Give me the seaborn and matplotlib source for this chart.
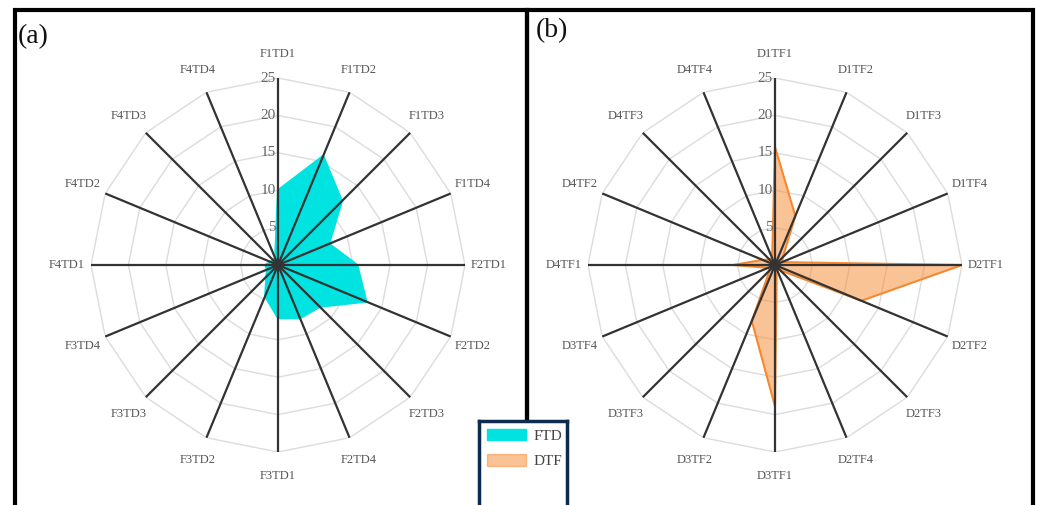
import numpy as np
import matplotlib
matplotlib.use("Agg")
import matplotlib.pyplot as plt
from matplotlib.patches import Rectangle, Patch
import seaborn as sns

# axis labels and values
labels_a = ["F1TD1", "F1TD2", "F1TD3", "F1TD4", "F2TD1", "F2TD2", "F2TD3", "F2TD4",
            "F3TD1", "F3TD2", "F3TD3", "F3TD4", "F4TD1", "F4TD2", "F4TD3", "F4TD4"]
ftd = [10.0, 15.8, 12.1, 7.4, 10.6, 12.8, 7.9, 7.7,
       7.1, 4.5, 2.2, 1.6, 1.7, 1.1, 1.0, 1.0]

labels_b = ["D1TF1", "D1TF2", "D1TF3", "D1TF4", "D2TF1", "D2TF2", "D2TF3", "D2TF4",
            "D3TF1", "D3TF2", "D3TF3", "D3TF4", "D4TF1", "D4TF2", "D4TF3", "D4TF4"]
dtf = [15.8, 7.1, 1.5, 1.0, 25.0, 12.5, 1.0, 0.6,
       18.9, 8.1, 1.0, 1.0, 5.6, 1.8, 1.0, 1.0]

rings = [5, 10, 15, 20, 25]
rmax = 25

sns.set_theme(style="white")
plt.rcParams["font.family"] = ["Liberation Serif", "DejaVu Serif"]

W, H = 1040, 505
fig = plt.figure(figsize=(W / 100, H / 100), dpi=100)


def radar(ax, labels, vals, color, alpha, edge):
    n = len(labels)
    ang = np.linspace(0, 2 * np.pi, n, endpoint=False)
    ax.set_theta_zero_location("N")
    ax.set_theta_direction(-1)
    ax.set_ylim(0, rmax)
    ax.set_axis_off()
    # polygon grid
    ring_ang = np.append(ang, 2 * np.pi)
    for r in rings:
        ax.plot(ring_ang, [r] * len(ring_ang), color="#dcdcdc", lw=1.0, zorder=1)
    # data
    x = np.append(ang, 2 * np.pi)
    y = np.append(vals, vals[0])
    ax.fill(x, y, color=color, alpha=alpha, lw=0, zorder=2)
    sns.lineplot(x=x, y=y, sort=False, estimator=None, ax=ax,
                 color=edge, lw=1.5, zorder=3)
    # spokes
    for a in ang:
        ax.plot([a, a], [0, rmax], color="#333333", lw=1.6, zorder=4)
    # labels
    for a, lab in zip(ang, labels):
        ax.text(a, 28.2, lab, ha="center", va="center", fontsize=9,
                color="#555555", clip_on=False)
    for r in rings:
        ax.annotate(str(r), (0, r), xytext=(-1.5, 0), textcoords="offset points",
                    ha="right", va="center", fontsize=11, color="#666666")


R = 187
ax1 = fig.add_axes([(278 - R) / W, (H - 265 - R) / H, 2 * R / W, 2 * R / H], projection="polar")
radar(ax1, labels_a, ftd, "#00e3e0", 1.0, "#00e3e0")
ax2 = fig.add_axes([(775 - R) / W, (H - 265 - R) / H, 2 * R / W, 2 * R / H], projection="polar")
radar(ax2, labels_b, dtf, "#f7882f", 0.5, "#f7882f")

# panel frames
fig.add_artist(Rectangle((15 / W, -0.05), (527 - 15) / W, 1.05 - 10 / H,
                         transform=fig.transFigure, fill=False, ec="black", lw=3))
fig.add_artist(Rectangle((527 / W, -0.05), (1033 - 527) / W, 1.05 - 10 / H,
                         transform=fig.transFigure, fill=False, ec="black", lw=3))
fig.text(18 / W, 1 - 37 / H, "(a)", fontsize=20, ha="left", va="center", color="#111111")
fig.text(536 / W, 1 - 31 / H, "(b)", fontsize=20, ha="left", va="center", color="#111111")

# legend box
axl = fig.add_axes([479 / W, -0.05, 88 / W, 0.05 + (H - 421) / H])
axl.set_zorder(10)
axl.set_xticks([])
axl.set_yticks([])
axl.set_facecolor("white")
for s in axl.spines.values():
    s.set_color("#0d2a4f")
    s.set_linewidth(2.5)
handles = [Patch(facecolor="#00e3e0", edgecolor="#00e3e0", label="FTD"),
           Patch(facecolor="#f7882f", alpha=0.5, edgecolor="#f7882f", label="DTF")]
axl.legend(handles=handles, loc="upper left", frameon=False, fontsize=11,
           handlelength=2.6, handleheight=0.8, borderaxespad=0.1,
           labelspacing=0.75, handletextpad=0.5, labelcolor="#444444")

fig.savefig("out.png", dpi=100)
